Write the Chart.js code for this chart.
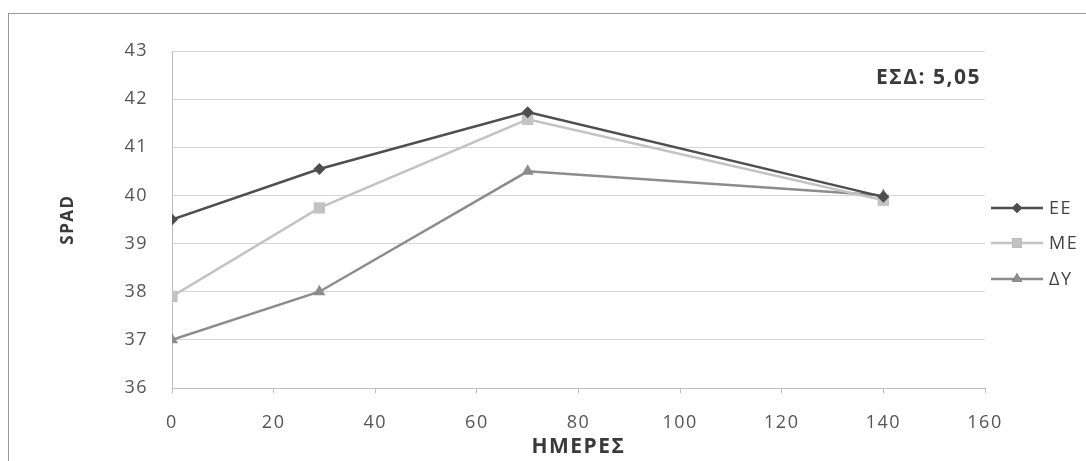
<!DOCTYPE html>
<html>
<head>
<meta charset="utf-8">
<script src="https://cdn.jsdelivr.net/npm/chart.js@4.4.0/dist/chart.umd.min.js"></script>
<style>
  html, body { margin: 0; padding: 0; background: #fff; }
  #wrap { position: relative; width: 1086px; height: 461px; }
</style>
</head>
<body>
<div id="wrap"><canvas id="chart" width="1086" height="461"></canvas></div>
<script>
const days = [0, 29, 70, 140];
const seriesNames = ["ΕΕ", "ΜΕ", "ΔΥ"];
const valuesEE = [39.5, 40.55, 41.73, 39.97];
const valuesME = [37.9, 39.74, 41.58, 39.9];
const valuesDY = [37.0, 38.0, 40.5, 40.0];
const xTicks = [0, 20, 40, 60, 80, 100, 120, 140, 160];
const yTicks = [36, 37, 38, 39, 40, 41, 42, 43];
const note = "ΕΣΔ: 5,05";

const FONT = "'Open Sans', 'DejaVu Sans', sans-serif";
const styles = [
  { color: "#4e4e4e", pointStyle: "rectRot", radius: 6, width: 2.5 },
  { color: "#c3c3c3", pointStyle: "rect", radius: 8, width: 2.5 },
  { color: "#8c8c8c", pointStyle: "triangle", radius: 7, width: 2.5 },
];
const allValues = [valuesEE, valuesME, valuesDY];

const datasets = seriesNames.map((name, i) => ({
  label: name,
  data: days.map((d, j) => ({ x: d, y: allValues[i][j] })),
  borderColor: styles[i].color,
  backgroundColor: styles[i].color,
  borderWidth: styles[i].width,
  pointStyle: styles[i].pointStyle,
  pointRadius: styles[i].radius,
  pointBorderWidth: 0,
  tension: 0,
}));

// scanned original is a bit wide, so space the letters out
const spacing = {
  id: "spacing",
  beforeUpdate(c) { c.ctx.letterSpacing = "1.5px"; },
  beforeDraw(c) { c.ctx.letterSpacing = "1.5px"; },
};

// frame, note text and legend with line + marker
const extras = {
  id: "extras",
  beforeDraw(c) {
    const g = c.ctx;
    g.save();
    g.strokeStyle = "#9a9a9a";
    g.lineWidth = 1;
    g.strokeRect(8.5, 13.5, 1100, 470);
    g.restore();
  },
  afterDraw(c) {
    const g = c.ctx;
    g.save();
    g.font = "bold 21px " + FONT;
    g.fillStyle = "#3a3a3a";
    g.textAlign = "left";
    g.textBaseline = "middle";
    g.fillText(note, 876, 78);

    const ys = [208, 243, 279];
    c.data.datasets.forEach((ds, i) => {
      const y = ys[i];
      g.strokeStyle = ds.borderColor;
      g.lineWidth = ds.borderWidth;
      g.beginPath();
      g.moveTo(991, y);
      g.lineTo(1043, y);
      g.stroke();
      Chart.helpers.drawPoint(g, {
        pointStyle: ds.pointStyle, radius: ds.pointRadius - 1, rotation: 0, borderWidth: 0,
      }, 1017, y);
      g.fillStyle = ds.backgroundColor;
      g.fill();
      g.font = "18px " + FONT;
      g.fillStyle = "#444";
      g.textAlign = "left";
      g.fillText(ds.label, 1049, y + 1);
    });
    g.restore();
  },
};

new Chart(document.getElementById("chart").getContext("2d"), {
  type: "line",
  data: { datasets },
  plugins: [spacing, extras],
  options: {
    responsive: false,
    animation: false,
    layout: { padding: { top: 51, right: 101, left: 0, bottom: 0 } },
    plugins: { legend: { display: false }, tooltip: { enabled: false } },
    scales: {
      x: {
        type: "linear",
        min: 0,
        max: 160,
        afterFit: s => { s.height = 73; },
        afterBuildTicks: s => { s.ticks = xTicks.map(v => ({ value: v })); },
        grid: { drawOnChartArea: false, drawTicks: true, tickLength: 5, color: "#bdbdbd" },
        border: { color: "#bdbdbd" },
        ticks: { color: "#555", font: { family: FONT, size: 18 }, padding: 19, maxRotation: 0 },
        title: {
          display: true, text: "ΗΜΕΡΕΣ", color: "#3a3a3a",
          font: { family: FONT, size: 21, weight: "bold" }, padding: { bottom: 1 },
        },
      },
      y: {
        min: 36,
        max: 43,
        afterFit: s => { s.width = 172; },
        afterBuildTicks: s => { s.ticks = yTicks.map(v => ({ value: v })); },
        grid: { color: "#d6d6d6", drawTicks: false },
        border: { color: "#bdbdbd" },
        ticks: { color: "#555", font: { family: FONT, size: 18 }, padding: 24 },
        title: {
          display: true, text: "SPAD", color: "#3a3a3a",
          font: { family: FONT, size: 17, weight: "bold" }, padding: { top: 58 },
        },
      },
    },
  },
});
</script>
</body>
</html>
